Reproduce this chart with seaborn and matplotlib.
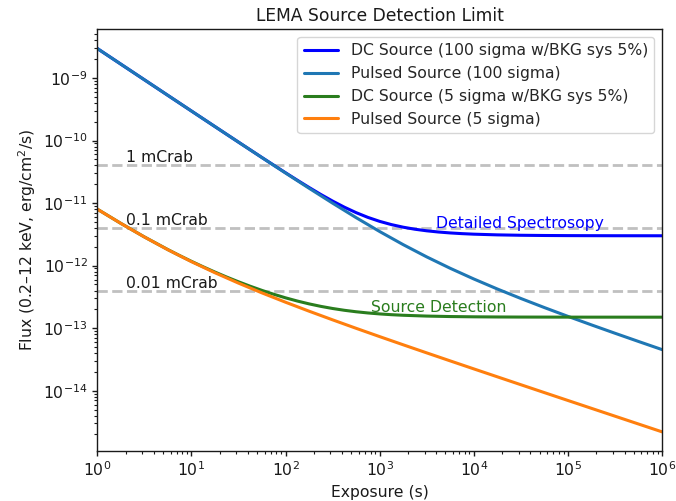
import numpy as np
import pandas as pd
import matplotlib
matplotlib.use("Agg")
import matplotlib.pyplot as plt
import seaborn as sns

# Exposure times (s), quarter-decade steps from 1 s to 1e6 s (pulsed curves)
exposure = [1, 1.778, 3.162, 5.623, 10, 17.78, 31.62, 56.23, 100, 177.8, 316.2, 562.3,
            1000, 1778, 3162, 5623, 1e4, 17783, 31623, 56234, 1e5, 177828, 316228, 562341, 1e6]

# Denser exposure sampling around the knees of the DC curves
exposure_dc100 = [1, 1.778, 3.162, 5.623, 10, 17.78, 31.62, 56.23, 74.99, 100, 133.4, 177.8, 237.1,
                  316.2, 421.7, 562.3, 749.9, 1000, 1334, 1778, 2371, 3162, 4217, 5623, 7499, 1e4,
                  17783, 31623, 56234, 1e5, 177828, 316228, 562341, 1e6]
exposure_dc5 = [1, 1.778, 3.162, 5.623, 7.499, 10, 13.34, 17.78, 23.71, 31.62, 42.17, 56.23, 74.99,
                100, 133.4, 177.8, 237.1, 316.2, 421.7, 562.3, 749.9, 1000, 1334, 1778, 3162, 5623,
                1e4, 17783, 31623, 56234, 1e5, 177828, 316228, 562341, 1e6]

# Flux limits (erg/cm^2/s)
dc_100 = [2.961e-9, 1.665e-9, 9.368e-10, 5.271e-10, 2.967e-10, 1.672e-10, 9.435e-11, 5.345e-11,
          4.034e-11, 3.053e-11, 2.321e-11, 1.777e-11, 1.373e-11, 1.077e-11, 8.600e-12, 7.034e-12,
          5.908e-12, 5.103e-12, 4.528e-12, 4.117e-12, 3.819e-12, 3.604e-12, 3.447e-12, 3.332e-12,
          3.247e-12, 3.184e-12, 3.103e-12, 3.058e-12, 3.033e-12, 3.019e-12, 3.011e-12, 3.006e-12,
          3.004e-12, 3.002e-12]
pulsed_100 = [2.961e-9, 1.665e-9, 9.368e-10, 5.271e-10, 2.966e-10, 1.671e-10, 9.426e-11, 5.329e-11,
              3.024e-11, 1.728e-11, 9.975e-12, 5.852e-12, 3.511e-12, 2.167e-12, 1.380e-12, 9.064e-13,
              6.123e-13, 4.236e-13, 2.986e-13, 2.137e-13, 1.547e-13, 1.130e-13, 8.307e-14, 6.137e-14, 4.551e-14]
dc_5 = [8.007e-12, 4.741e-12, 2.880e-12, 1.805e-12, 1.448e-12, 1.172e-12, 9.575e-13, 7.895e-13,
        6.569e-13, 5.521e-13, 4.685e-13, 4.018e-13, 3.485e-13, 3.058e-13, 2.718e-13, 2.448e-13,
        2.233e-13, 2.065e-13, 1.933e-13, 1.831e-13, 1.752e-13, 1.691e-13, 1.644e-13, 1.609e-13,
        1.562e-13, 1.535e-13, 1.520e-13, 1.511e-13, 1.506e-13, 1.504e-13, 1.502e-13, 1.501e-13,
        1.501e-13, 1.500e-13, 1.500e-13]
pulsed_5 = [8.005e-12, 4.737e-12, 2.873e-12, 1.795e-12, 1.158e-12, 7.698e-13, 5.254e-13, 3.665e-13,
            2.601e-13, 1.871e-13, 1.360e-13, 9.958e-14, 7.336e-14, 5.430e-14, 4.031e-14, 3.000e-14,
            2.237e-14, 1.671e-14, 1.249e-14, 9.343e-15, 6.994e-15, 5.238e-15, 3.924e-15, 2.940e-15, 2.204e-15]

series_names = ["DC Source (100 sigma w/BKG sys 5%)", "Pulsed Source (100 sigma)",
                "DC Source (5 sigma w/BKG sys 5%)", "Pulsed Source (5 sigma)"]
series_x = [exposure_dc100, exposure, exposure_dc5, exposure]
series_values = [dc_100, pulsed_100, dc_5, pulsed_5]
series_colors = ["blue", "#1f77b4", "#2a7d1e", "#ff7f0e"]

# Crab reference levels
crab_levels = [4e-11, 4e-12, 4e-13]
crab_labels = ["1 mCrab", "0.1 mCrab", "0.01 mCrab"]
crab_x = [1, 1e6]

sns.set_style("ticks")
plt.rcParams["font.family"] = ["DejaVu Sans"]
fs = 11.25
ink = "#1a1a1a"

fig = plt.figure(figsize=(6.76, 5.01), dpi=100)
ax = fig.add_axes([0.1439, 0.0998, 0.9793 - 0.1439, 0.9415 - 0.0998])

for lvl in crab_levels:
    d = pd.DataFrame({"x": crab_x, "y": [lvl, lvl]})
    sns.lineplot(data=d, x="x", y="y", ax=ax, color="silver", linestyle="--", lw=2, zorder=1)

for name, xs, vals, col in zip(series_names, series_x, series_values, series_colors):
    d = pd.DataFrame({"x": xs, "y": vals})
    sns.lineplot(data=d, x="x", y="y", ax=ax, color=col, lw=2.2, label=name, zorder=2)

ax.set_xscale("log")
ax.set_yscale("log")
ax.set_xlim(1, 1e6)

for lvl, lab in zip(crab_levels, crab_labels):
    ax.text(2, lvl, lab, fontsize=fs, va="bottom", ha="left", color=ink)

ax.text(4e3, 4e-12, "Detailed Spectrosopy", fontsize=fs, color="blue", va="baseline")
ax.text(8e2, 1.8e-13, "Source Detection", fontsize=fs, color="#2a7d1e", va="baseline")

ax.set_title("LEMA Source Detection Limit", fontsize=12.3, color=ink)
ax.set_xlabel("Exposure (s)", fontsize=fs, color=ink)
ax.set_ylabel("Flux (0.2\u201312 keV, erg/cm$^2$/s)", fontsize=fs, color=ink)
ax.tick_params(axis="both", which="major", labelsize=fs, direction="out", length=3.5, width=1, colors=ink)
ax.tick_params(axis="both", which="minor", direction="out", length=2, width=0.8, colors=ink)
for s in ax.spines.values():
    s.set_color(ink)
    s.set_linewidth(1)

ax.legend(loc="upper right", fontsize=fs, handlelength=2.2)

fig.savefig("out.png", dpi=100)
